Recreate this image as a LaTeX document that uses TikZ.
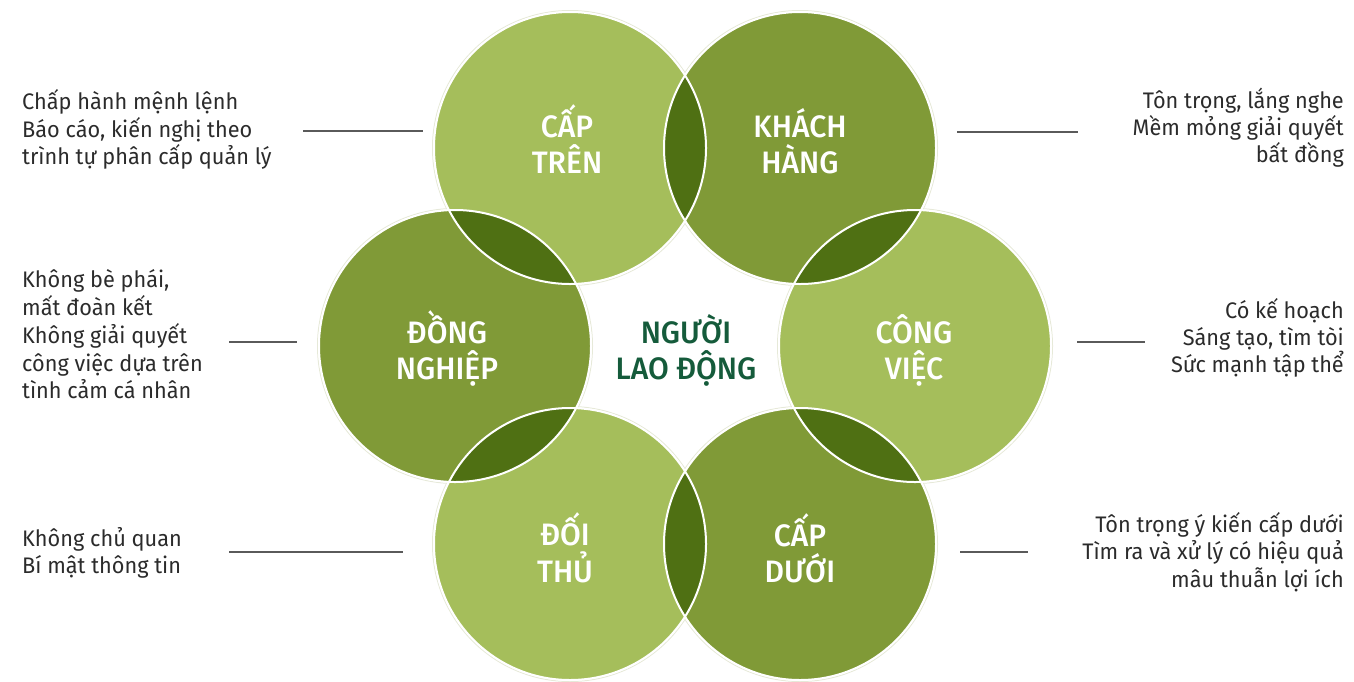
\documentclass[tikz,border=0pt]{standalone}
\usepackage{fontspec}
\setmainfont{Fira Sans}[FakeStretch=0.965]
\newfontfamily\labfont{Fira Sans Medium}[FakeStretch=0.97]
\definecolor{lightg}{HTML}{A5BE5B}
\definecolor{darkg}{HTML}{809A37}
\definecolor{lensg}{HTML}{4F7013}
\definecolor{centerg}{HTML}{155B3B}
\definecolor{txtg}{HTML}{2B2B2B}
\definecolor{lineg}{HTML}{5A5A5A}
\definecolor{haloc}{HTML}{E6E9D8}
\tikzset{
  lab/.style={text=white, font=\labfont\fontsize{31}{31}\selectfont, inner sep=0pt, anchor=base},
  ctr/.style={text=centerg, font=\labfont\fontsize{31}{31}\selectfont, inner sep=0pt, anchor=base},
  sidel/.style={text=txtg, font=\fontsize{22.5}{27}\selectfont, inner sep=0pt, anchor=base west},
  sider/.style={text=txtg, font=\fontsize{22.5}{27}\selectfont, inner sep=0pt, anchor=base east},
  leader/.style={draw=lineg, line width=1.2pt},
  ring/.style={draw=white, line width=2pt},
  halo/.style={draw=haloc, line width=1pt},
}
\begin{document}
\begin{tikzpicture}[x=1pt,y=-1pt]
\useasboundingbox (0,0) rectangle (1354,681);
% circle centres
\coordinate (cT) at (570,148);
\coordinate (cK) at (800,148);
\coordinate (cV) at (915,346);
\coordinate (cD) at (800,544);
\coordinate (cF) at (570,544);
\coordinate (cN) at (455,346);
\def\R{136}
% faint outer halo
\foreach \c in {cT,cK,cV,cD,cF,cN}{
  \draw[halo] (\c) circle (\R+1.5);
}
% fills
\fill[lightg] (cT) circle (\R);
\fill[darkg]  (cK) circle (\R);
\fill[lightg] (cV) circle (\R);
\fill[darkg]  (cD) circle (\R);
\fill[lightg] (cF) circle (\R);
\fill[darkg]  (cN) circle (\R);
% lenses
\foreach \a/\b in {cT/cK,cK/cV,cV/cD,cD/cF,cF/cN,cN/cT}{
  \begin{scope}
    \clip (\a) circle (\R);
    \fill[lensg] (\b) circle (\R);
  \end{scope}
}
% outlines
\foreach \c in {cT,cK,cV,cD,cF,cN}{
  \draw[ring] (\c) circle (\R);
}
% circle labels
\node[lab] (t1) at (567,137) {CẤP};
\node[lab] (t2) at (567,173) {TRÊN};
\node[lab] (k1) at (800,137) {KHÁCH};
\node[lab] (k2) at (800,173) {HÀNG};
\node[lab] (n1) at (447,343) {ĐỒNG};
\node[lab] (n2) at (447,379) {NGHIỆP};
\node[ctr] (p1) at (686,343) {NGƯỜI};
\node[ctr] (p2) at (686,379) {LAO ĐỘNG};
\node[lab] (v1) at (914,343) {CÔNG};
\node[lab] (v2) at (914,379) {VIỆC};
\node[lab] (f1) at (565,545) {ĐỐI};
\node[lab] (f2) at (565,582) {THỦ};
\node[lab] (d1) at (800,546) {CẤP};
\node[lab] (d2) at (800,582) {DƯỚI};
% side texts
\node[sidel] (a1) at (22,109) {Chấp hành mệnh lệnh};
\node[sidel] (a2) at (22,137) {Báo cáo, kiến nghị theo};
\node[sidel] (a3) at (22,164) {trình tự phân cấp quản lý};
\node[sider] (b1) at (1344,108) {Tôn trọng, lắng nghe};
\node[sider] (b2) at (1344,135) {Mềm mỏng giải quyết};
\node[sider] (b3) at (1344,162) {bất đồng};
\node[sidel] (c1) at (22,287) {Không bè phái,};
\node[sidel] (c2) at (22,315) {mất đoàn kết};
\node[sidel] (c3) at (22,343) {Không giải quyết};
\node[sidel] (c4) at (22,371) {công việc dựa trên};
\node[sidel] (c5) at (22,398) {tình cảm cá nhân};
\node[sider] (e1) at (1344,318) {Có kế hoạch};
\node[sider] (e2) at (1344,345) {Sáng tạo, tìm tòi};
\node[sider] (e3) at (1344,372) {Sức mạnh tập thể};
\node[sidel] (g1) at (22,546) {Không chủ quan};
\node[sidel] (g2) at (22,573) {Bí mật thông tin};
\node[sider] (h1) at (1344,532) {Tôn trọng ý kiến cấp dưới};
\node[sider] (h2) at (1344,559) {Tìm ra và xử lý có hiệu quả};
\node[sider] (h3) at (1344,587) {mâu thuẫn lợi ích};
% leader lines
\coordinate (l1a) at (303,131); \coordinate (l1b) at (423,131);
\coordinate (l2a) at (957,132); \coordinate (l2b) at (1078,132);
\coordinate (l3a) at (229,342); \coordinate (l3b) at (297,342);
\coordinate (l4a) at (1077,342); \coordinate (l4b) at (1145,342);
\coordinate (l5a) at (229,552); \coordinate (l5b) at (403,552);
\coordinate (l6a) at (960,552); \coordinate (l6b) at (1028,552);
\draw[leader] (l1a) -- (l1b);
\draw[leader] (l2a) -- (l2b);
\draw[leader] (l3a) -- (l3b);
\draw[leader] (l4a) -- (l4b);
\draw[leader] (l5a) -- (l5b);
\draw[leader] (l6a) -- (l6b);
\end{tikzpicture}
\end{document}
